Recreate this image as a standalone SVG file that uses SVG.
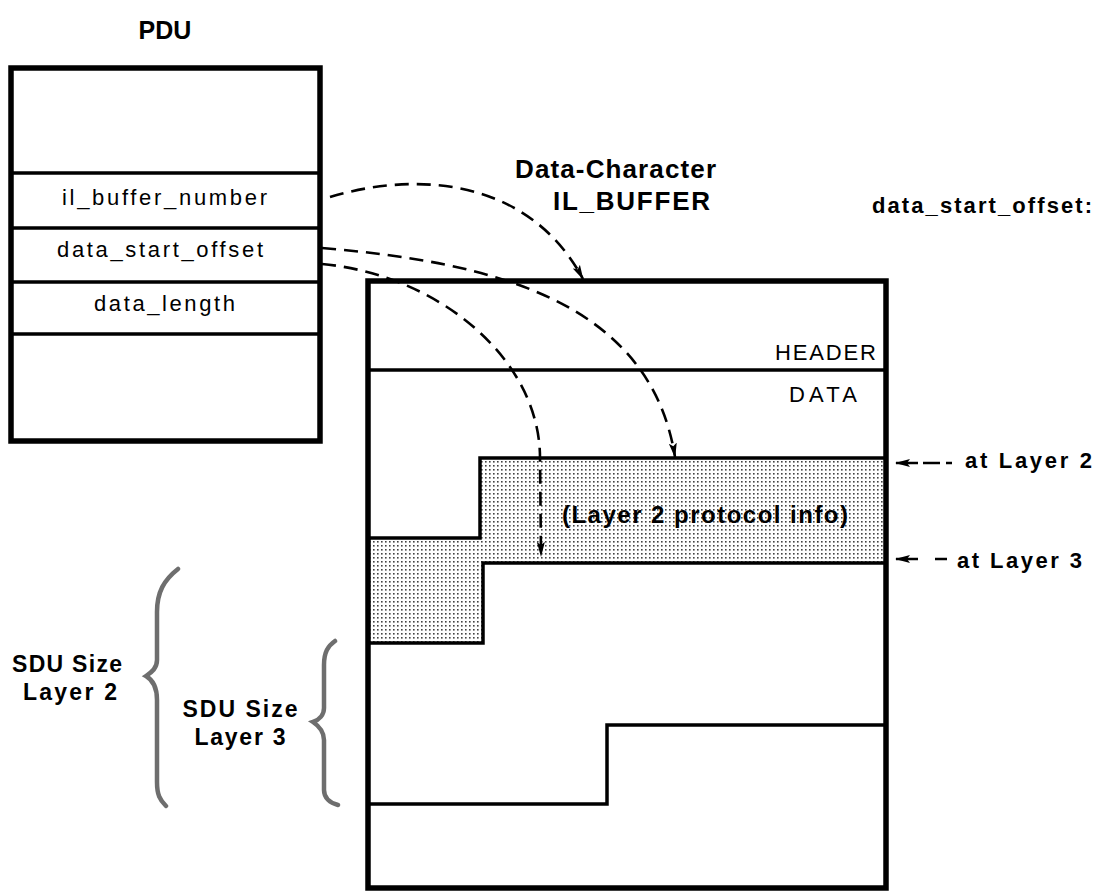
<svg xmlns="http://www.w3.org/2000/svg" width="1094" height="895" viewBox="0 0 1094 895">
<style>
.box{fill:none;stroke:#000;stroke-width:5.5}
.div{stroke:#000;stroke-width:3.5;fill:none}
.t{font-family:"Liberation Sans",Arial,sans-serif;font-size:22px;fill:#000}
.b{font-family:"Liberation Sans",Arial,sans-serif;font-weight:bold;fill:#000}
.dash{fill:none;stroke:#000;stroke-width:2.6;stroke-dasharray:14 8}
.brace{fill:none;stroke:#6e6e6e;stroke-width:4.5;stroke-linecap:round}
</style>
<defs>
<pattern id="dots" width="4" height="4" patternUnits="userSpaceOnUse">
<rect width="4" height="4" fill="#fff"/>
<rect x="1" y="1" width="1.6" height="1.6" fill="#444"/>
</pattern>
<marker id="ah" markerWidth="15" markerHeight="9" refX="14" refY="4.5" orient="auto" markerUnits="userSpaceOnUse">
<path d="M0,0.5 L15,4.5 L0,8.5 L3,4.5 Z" fill="#000"/>
</marker>
</defs>

<g id="pdu">
<text class="b" x="165" y="39" font-size="25" text-anchor="middle">PDU</text>
<rect class="box" x="11" y="68" width="309" height="373"/>
<line class="div" x1="11" y1="173" x2="320" y2="173"/>
<line class="div" x1="11" y1="228" x2="320" y2="228"/>
<line class="div" x1="11" y1="282" x2="320" y2="282"/>
<line class="div" x1="11" y1="334" x2="320" y2="334"/>
<text class="t" x="62" y="205" textLength="205" lengthAdjust="spacing">il_buffer_number</text>
<text class="t" x="57" y="257" textLength="206" lengthAdjust="spacing">data_start_offset</text>
<text class="t" x="94" y="311" textLength="141" lengthAdjust="spacing">data_length</text>
</g>

<g id="buffer">
<text class="b" x="515" y="178" font-size="26" textLength="201" lengthAdjust="spacing">Data-Character</text>
<text class="b" x="553" y="210" font-size="26" textLength="157" lengthAdjust="spacing">IL_BUFFER</text>
<path d="M368,538 L480,538 L480,458 L886,458 L886,563 L483,563 L483,643 L368,643 Z" fill="url(#dots)"/>
<rect class="box" x="368" y="281" width="518" height="607"/>
<line class="div" x1="368" y1="370" x2="886" y2="370"/>
<path class="div" d="M368,538 L480,538 L480,458 L886,458" stroke-width="4"/>
<path class="div" d="M886,563 L483,563 L483,643 L368,643" stroke-width="4"/>
<path class="div" d="M368,804 L607,804 L607,725 L886,725" stroke-width="4"/>
<text class="t" x="775" y="360" textLength="101" lengthAdjust="spacing">HEADER</text>
<text class="t" x="789" y="402" textLength="68" lengthAdjust="spacing">DATA</text>
<text class="b" x="562" y="523" font-size="24" textLength="286" lengthAdjust="spacing">(Layer 2 protocol info)</text>
</g>

<g id="offset-labels">
<text class="b" x="872" y="213" font-size="22" textLength="220" lengthAdjust="spacing">data_start_offset:</text>
<text class="b" x="965" y="468" font-size="22" textLength="127" lengthAdjust="spacing">at Layer 2</text>
<text class="b" x="957" y="568" font-size="22" textLength="125" lengthAdjust="spacing">at Layer 3</text>
</g>

<g id="sdu-l2">
<path class="brace" d="M178,569 C164,580 157,592 157,612 L157,660 C157,668 152,672 146,676 C153,680 157,688 157,700 L157,782 C157,795 160,800 166,806"/>
<text class="b" x="67" y="672" font-size="23" text-anchor="middle" textLength="110" lengthAdjust="spacing">SDU Size</text>
<text class="b" x="70" y="700" font-size="23" text-anchor="middle" textLength="94" lengthAdjust="spacing">Layer 2</text>
</g>

<g id="sdu-l3">
<path class="brace" d="M335,641 C328,646 324,652 324,665 L324,708 C324,715 319,720 313,722 C319,726 324,732 324,740 L324,790 C324,798 330,803 338,805"/>
<text class="b" x="240" y="717" font-size="23" text-anchor="middle" textLength="115" lengthAdjust="spacing">SDU Size</text>
<text class="b" x="240" y="745" font-size="23" text-anchor="middle" textLength="91" lengthAdjust="spacing">Layer 3</text>
</g>

<g id="connectors">
<path class="dash" d="M330,197 C420,170 530,180 583,279" marker-end="url(#ah)"/>
<path class="dash" d="M322,248 C490,262 650,300 675,457" marker-end="url(#ah)"/>
<path class="dash" d="M322,264 C440,275 540,360 540,458 L541,556" marker-end="url(#ah)"/>
<path d="M918,463 L896,463" stroke="#000" stroke-width="2.5" marker-end="url(#ah)"/>
<line x1="923" y1="463" x2="940" y2="463" stroke="#000" stroke-width="2.5"/>
<line x1="946" y1="463" x2="952" y2="463" stroke="#000" stroke-width="2.5"/>
<path d="M918,559 L896,559" stroke="#000" stroke-width="2.5" marker-end="url(#ah)"/>
<line x1="935" y1="559" x2="947" y2="559" stroke="#000" stroke-width="2.5"/>
</g>
</svg>
